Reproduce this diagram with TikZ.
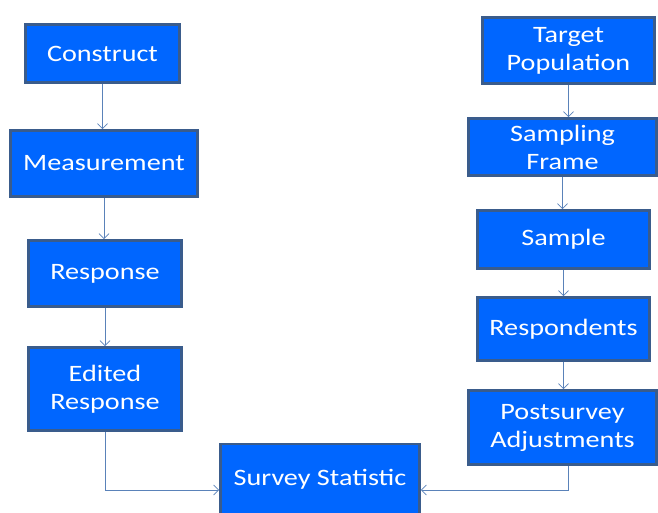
\documentclass[tikz,border=0pt]{standalone}
\usepackage{fontspec}
\setmainfont{Carlito}[FakeStretch=1.2]
\usetikzlibrary{arrows.meta}
\definecolor{boxfill}{RGB}{0,102,255}
\definecolor{boxline}{RGB}{58,92,140}
\definecolor{arrline}{RGB}{90,130,185}
\tikzset{
  box/.style={draw=boxline, line width=2.6pt, fill=boxfill, text=white, align=center,
    inner sep=0pt, font=\fontsize{23.5}{28}\selectfont},
  arr/.style={draw=arrline, line width=0.8pt, -{Straight Barb[length=5pt,width=10pt]}}
}
\begin{document}
\begin{tikzpicture}[x=1pt,y=-1pt]
\useasboundingbox (0,0) rectangle (658,513);
\node[box, minimum width=154pt, minimum height=58pt] (construct) at (102.5,53.5) {Construct};
\node[box, minimum width=187pt, minimum height=66pt] (measure) at (104,163.5) {Measurement};
\node[box, minimum width=153pt, minimum height=66pt] (response) at (105,273.5) {Response};
\node[box, minimum width=153pt, minimum height=83pt] (edited) at (105,389) {Edited\\Response};
\node[box, minimum width=199pt, minimum height=70pt] (stat) at (320,479) {Survey Statistic};
\node[box, minimum width=172pt, minimum height=66pt] (target) at (568.5,50.5) {Target\\Population};
\node[box, minimum width=188pt, minimum height=57pt] (frame) at (562.5,147) {Sampling\\Frame};
\node[box, minimum width=172pt, minimum height=58pt] (sample) at (563.5,239.5) {Sample};
\node[box, minimum width=172pt, minimum height=63pt] (resp) at (563.5,329) {Respondents};
\node[box, minimum width=188pt, minimum height=74pt] (post) at (562.5,427.5) {Postsurvey\\Adjustments};
\draw[arr] (construct.south) -- (construct.south |- measure.north);
\draw[arr] (measure.south) -- (measure.south |- response.north);
\draw[arr] (response.south) -- (response.south |- edited.north);
\draw[arr] (target.south) -- (target.south |- frame.north);
\draw[arr] (frame.south) -- (frame.south |- sample.north);
\draw[arr] (sample.south) -- (sample.south |- resp.north);
\draw[arr] (resp.south) -- (resp.south |- post.north);
\draw[arr] (edited.south) |- ([yshift=-11pt]stat.west);
\coordinate (postdrop) at ([xshift=5.5pt]post.south);
\draw[arr] (postdrop) |- ([yshift=-11pt]stat.east);
\end{tikzpicture}
\end{document}
